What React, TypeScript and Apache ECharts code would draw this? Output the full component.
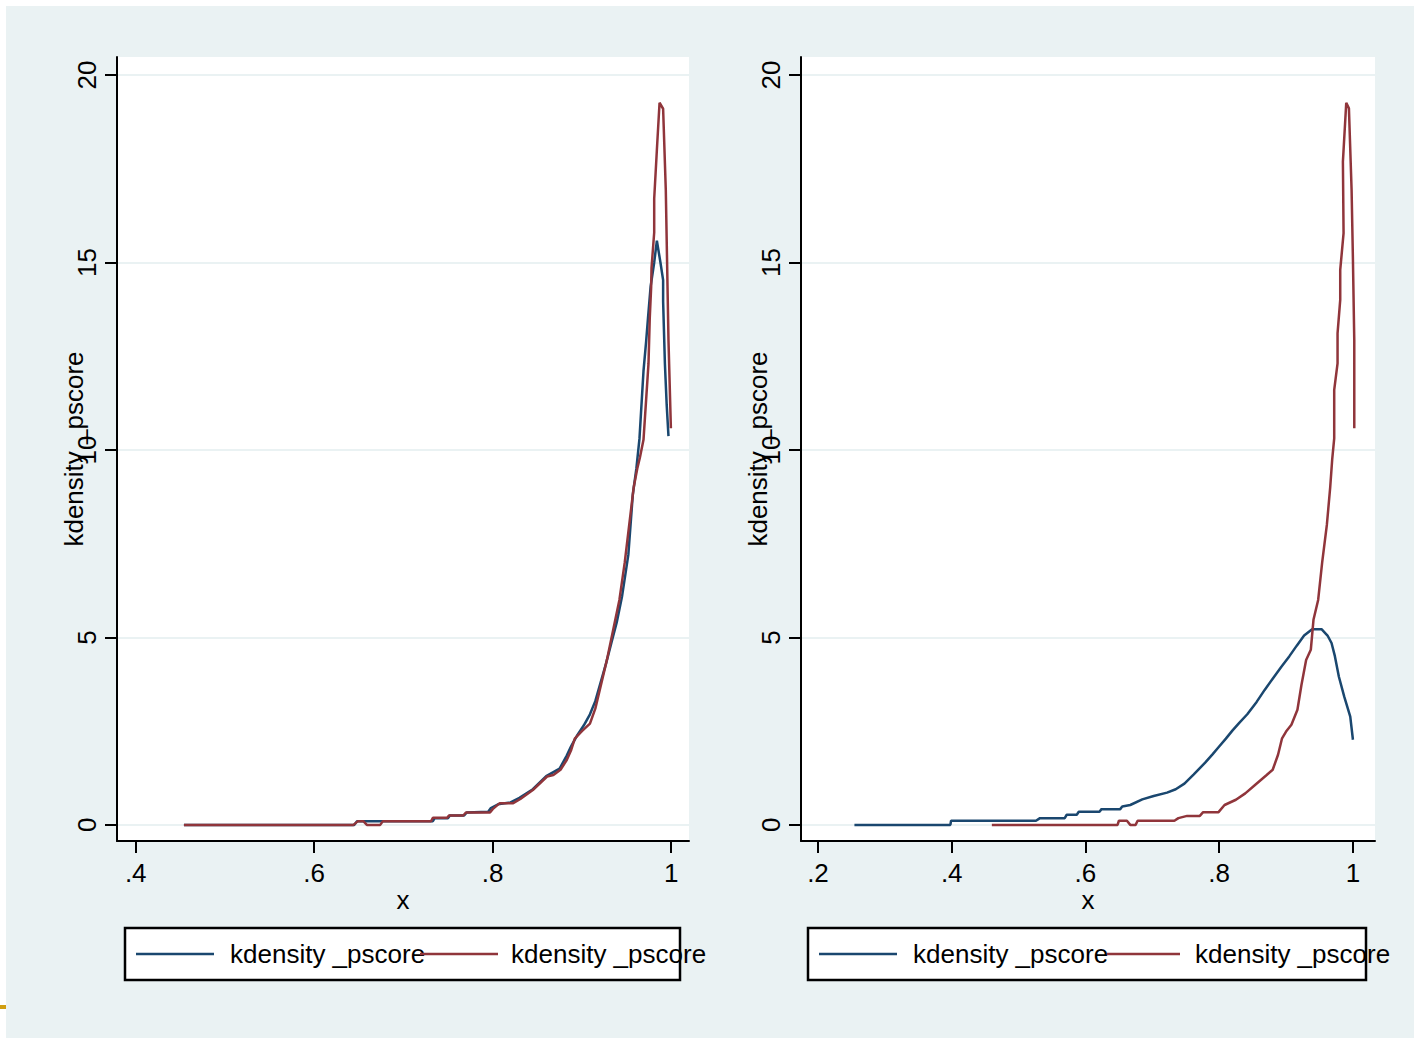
import React, { useEffect, useRef } from "react";
import * as echarts from "echarts";

const FONT = '"Liberation Sans", Arial, sans-serif';
const BLUE = "#1a476f";
const RED = "#90353b";
const BG = "#eaf2f3";

const seriesNames = ["kdensity _pscore", "kdensity _pscore"];
const yTicks = [0, 5, 10, 15, 20];
const leftXTicks = [0.4, 0.6, 0.8, 1];
const rightXTicks = [0.2, 0.4, 0.6, 0.8, 1];

// Left panel: blue curve [x, density]
const leftBlue: number[][] = [
  [0.454, 0], [0.645, 0], [0.648, 0.1], [0.685, 0.1], [0.733, 0.1], [0.735, 0.18],
  [0.75, 0.18], [0.752, 0.25], [0.768, 0.25], [0.771, 0.33], [0.795, 0.35], [0.798, 0.45],
  [0.806, 0.55], [0.82, 0.6], [0.83, 0.72], [0.845, 0.95], [0.86, 1.3], [0.875, 1.5],
  [0.883, 1.85], [0.888, 2.1], [0.895, 2.4], [0.902, 2.65], [0.909, 2.95], [0.915, 3.3],
  [0.921, 3.8], [0.927, 4.3], [0.933, 4.85], [0.939, 5.4], [0.945, 6.1], [0.952, 7.2],
  [0.957, 8.8], [0.961, 9.5], [0.9645, 10.3], [0.9675, 11.5], [0.969, 12.1], [0.972, 12.9],
  [0.974, 13.5], [0.977, 14.36], [0.981, 15.0], [0.984, 15.58], [0.988, 15.0], [0.991, 14.53],
  [0.991, 13.96], [0.993, 12.3], [0.995, 11.2], [0.997, 10.37],
];

// Left panel: red curve
const leftRed: number[][] = [
  [0.454, 0], [0.644, 0], [0.649, 0.1], [0.655, 0.1], [0.659, 0.0], [0.674, 0.0],
  [0.677, 0.1], [0.731, 0.1], [0.733, 0.19], [0.749, 0.19], [0.751, 0.25], [0.767, 0.25],
  [0.77, 0.33], [0.797, 0.33], [0.8, 0.42], [0.808, 0.58], [0.823, 0.58], [0.831, 0.69],
  [0.845, 0.93], [0.861, 1.29], [0.868, 1.33], [0.876, 1.47], [0.883, 1.73], [0.888, 2.0],
  [0.892, 2.3], [0.9, 2.5], [0.909, 2.7], [0.915, 3.1], [0.92, 3.6], [0.928, 4.4],
  [0.935, 5.2], [0.942, 6.0], [0.948, 7.0], [0.953, 8.0], [0.958, 9.0], [0.962, 9.5],
  [0.965, 9.8], [0.969, 10.27], [0.9746, 12.3], [0.976, 13.5], [0.9776, 14.35], [0.978, 14.85],
  [0.981, 15.8], [0.981, 16.7], [0.984, 18.0], [0.987, 19.26], [0.991, 19.1], [0.994, 16.93],
  [0.997, 12.93], [0.9997, 10.58],
];

// Right panel: blue curve
const rightBlue: number[][] = [
  [0.2545, 0], [0.398, 0], [0.399, 0.11], [0.526, 0.11], [0.532, 0.18], [0.569, 0.18],
  [0.572, 0.27], [0.587, 0.27], [0.59, 0.35], [0.621, 0.35], [0.624, 0.42], [0.652, 0.42],
  [0.655, 0.49], [0.667, 0.53], [0.685, 0.68], [0.702, 0.77], [0.722, 0.86], [0.735, 0.95],
  [0.748, 1.1], [0.762, 1.35], [0.779, 1.66], [0.79, 1.88], [0.799, 2.07], [0.81, 2.3],
  [0.82, 2.52], [0.83, 2.72], [0.842, 2.95], [0.856, 3.28], [0.868, 3.6], [0.88, 3.9],
  [0.893, 4.22], [0.905, 4.5], [0.916, 4.78], [0.927, 5.05], [0.939, 5.22], [0.953, 5.22],
  [0.962, 5.05], [0.968, 4.85], [0.973, 4.5], [0.979, 3.95], [0.987, 3.42], [0.996, 2.89],
  [1.0, 2.27],
];

// Right panel: red curve
const rightRed: number[][] = [
  [0.46, 0], [0.648, 0], [0.65, 0.11], [0.662, 0.11], [0.667, 0.0], [0.675, 0.0],
  [0.678, 0.11], [0.733, 0.11], [0.739, 0.18], [0.752, 0.24], [0.771, 0.24], [0.776, 0.34],
  [0.799, 0.34], [0.808, 0.53], [0.825, 0.67], [0.839, 0.84], [0.854, 1.07], [0.871, 1.33],
  [0.88, 1.47], [0.888, 1.87], [0.894, 2.31], [0.9, 2.49], [0.908, 2.67], [0.917, 3.07],
  [0.923, 3.73], [0.93, 4.4], [0.937, 4.67], [0.941, 5.47], [0.948, 6.0], [0.954, 7.0],
  [0.961, 8.0], [0.966, 9.0], [0.969, 9.75], [0.972, 10.31], [0.972, 11.6], [0.977, 12.31],
  [0.977, 13.11], [0.981, 14.0], [0.981, 14.8], [0.986, 15.78], [0.985, 17.69], [0.99, 19.26],
  [0.994, 19.11], [0.998, 16.93], [1.0, 15.07], [1.002, 12.93], [1.002, 10.58],
];

const fmt = (v: number) => (v === 1 ? "1" : String(v).replace(/^0/, ""));

function xAxisFor(gridIndex: number, min: number, max: number, ticks: number[]) {
  return {
    gridIndex,
    type: "value",
    min,
    max,
    name: "x",
    nameLocation: "middle",
    nameGap: 46,
    nameMoveOverlap: false,
    nameTextStyle: { fontSize: 26, color: "#000", fontFamily: FONT },
    axisLine: { show: true, onZero: false, lineStyle: { color: "#000", width: 2 } },
    axisTick: { show: true, length: 12, customValues: ticks, lineStyle: { color: "#000", width: 2 } },
    axisLabel: {
      customValues: ticks,
      formatter: fmt,
      margin: 19,
      fontSize: 26,
      color: "#000",
      fontFamily: FONT,
    },
    splitLine: { show: false },
  };
}

function yAxisFor(gridIndex: number) {
  return {
    gridIndex,
    type: "value",
    min: -0.43,
    max: 20.48,
    name: "kdensity _pscore",
    nameLocation: "middle",
    nameGap: 30,
    nameMoveOverlap: false,
    nameTextStyle: { fontSize: 26, color: "#000", fontFamily: FONT },
    axisLine: { show: true, onZero: false, lineStyle: { color: "#000", width: 2 } },
    axisTick: { show: true, length: 12, customValues: yTicks, lineStyle: { color: "#000", width: 2 } },
    axisLabel: {
      customValues: yTicks,
      rotate: 90,
      margin: 17,
      fontSize: 26,
      color: "#000",
      fontFamily: FONT,
    },
    splitLine: { show: true, lineStyle: { color: BG, width: 2 } },
  };
}

function lineSeries(name: string, data: number[][], color: string, idx: number) {
  return {
    name,
    type: "line",
    xAxisIndex: idx,
    yAxisIndex: idx,
    data,
    showSymbol: false,
    symbol: "none",
    lineStyle: { color, width: 2.5 },
    itemStyle: { color },
    silent: true,
  };
}

function legendBox(left: number, width: number, blueX: number[], redX: number[], t1: number, t2: number) {
  const cy = 954;
  const txt = (x: number, s: string) => ({
    type: "text",
    x,
    y: cy,
    style: {
      text: s,
      fontSize: 26,
      fontFamily: FONT,
      fill: "#000",
      verticalAlign: "middle",
      textAlign: "left",
    },
  });
  return [
    {
      type: "rect",
      shape: { x: left, y: 928, width, height: 52 },
      style: { fill: "#fff", stroke: "#000", lineWidth: 2.5 },
    },
    { type: "line", shape: { x1: blueX[0], y1: cy, x2: blueX[1], y2: cy }, style: { stroke: BLUE, lineWidth: 2.5 } },
    txt(t1, seriesNames[0]),
    { type: "line", shape: { x1: redX[0], y1: cy, x2: redX[1], y2: cy }, style: { stroke: RED, lineWidth: 2.5 } },
    txt(t2, seriesNames[1]),
  ];
}

export default function App() {
  const ref = useRef<HTMLDivElement>(null);
  useEffect(() => {
    document.body.style.margin = "0";
    if (!ref.current) return;
    const chart = echarts.init(ref.current, null, { renderer: "svg" });
    const option = {
      animation: false,
      backgroundColor: BG,
      grid: [
        { left: 117, top: 57, width: 572, height: 784, show: true, backgroundColor: "#fff", borderWidth: 0 },
        { left: 801, top: 57, width: 574, height: 784, show: true, backgroundColor: "#fff", borderWidth: 0 },
      ],
      xAxis: [xAxisFor(0, 0.379, 1.02, leftXTicks), xAxisFor(1, 0.1746, 1.033, rightXTicks)],
      yAxis: [yAxisFor(0), yAxisFor(1)],
      series: [
        lineSeries(seriesNames[0], leftBlue, BLUE, 0),
        lineSeries(seriesNames[1], leftRed, RED, 0),
        lineSeries(seriesNames[0], rightBlue, BLUE, 1),
        lineSeries(seriesNames[1], rightRed, RED, 1),
      ],
      graphic: [
        { type: "rect", shape: { x: 0, y: 0, width: 1414, height: 6 }, style: { fill: "#fff" } },
        { type: "rect", shape: { x: 0, y: 0, width: 6, height: 1038 }, style: { fill: "#fff" } },
        { type: "rect", shape: { x: 0, y: 1005, width: 6, height: 4 }, style: { fill: "#d09e10" } },
        ...legendBox(125, 555, [136, 214], [420, 498], 230, 511),
        ...legendBox(808, 558, [819, 897], [1107, 1180], 913, 1195),
      ],
    };
    chart.setOption(option as any);
    return () => chart.dispose();
  }, []);
  return <div ref={ref} style={{ width: 1414, height: 1038 }} />;
}
